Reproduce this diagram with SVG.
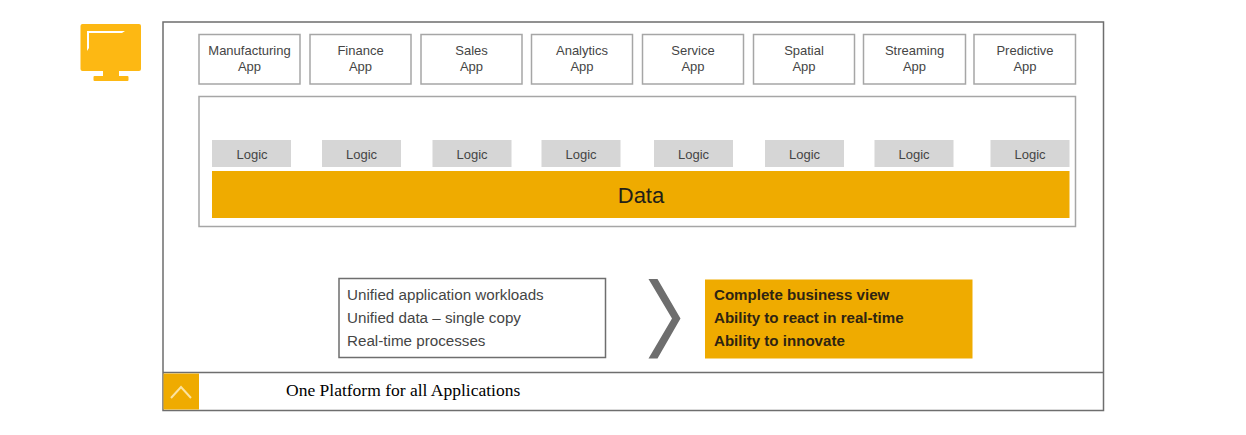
<svg xmlns="http://www.w3.org/2000/svg" width="1246" height="435" viewBox="0 0 1246 435">
<style>
text{font-family:"Liberation Sans",Arial,sans-serif;fill:#454545}
.app rect{fill:#fff;stroke:#a6a6a6;stroke-width:1.5}
.app text{font-size:13px;text-anchor:middle}
.logic rect{fill:#d6d6d6}
.logic text{font-size:13px;text-anchor:middle}
.list{font-size:15.2px}
.bold{font-size:15.1px;font-weight:bold;fill:#2e2412}
</style>
<rect width="1246" height="435" fill="#fff"/>
<g id="frame"><rect x="163" y="22" width="940.500" height="388.500" fill="#fff" stroke="#6e6e6e" stroke-width="1.5"/><line x1="163" y1="372.500" x2="1103.500" y2="372.500" stroke="#6e6e6e" stroke-width="1.5"/></g>
<g id="monitor-icon"><rect x="80.500" y="24" width="60.500" height="47" rx="2" fill="#fdb813"/><rect x="103" y="70" width="16" height="6" fill="#fdb813"/><rect x="93.500" y="76" width="35" height="5" rx="1" fill="#fdb813"/><path d="M87 31H125L122 33H89V48L87 51Z" fill="#fff"/></g>
<g id="app-1" class="app"><rect x="199" y="34.500" width="101" height="49.500"/><text x="249.500" y="55">Manufacturing</text><text x="249.500" y="71">App</text></g>
<g id="app-2" class="app"><rect x="310" y="34.500" width="101" height="49.500"/><text x="360.500" y="55">Finance</text><text x="360.500" y="71">App</text></g>
<g id="app-3" class="app"><rect x="421" y="34.500" width="101" height="49.500"/><text x="471.500" y="55">Sales</text><text x="471.500" y="71">App</text></g>
<g id="app-4" class="app"><rect x="531.500" y="34.500" width="101" height="49.500"/><text x="582" y="55">Analytics</text><text x="582" y="71">App</text></g>
<g id="app-5" class="app"><rect x="642.500" y="34.500" width="101" height="49.500"/><text x="693" y="55">Service</text><text x="693" y="71">App</text></g>
<g id="app-6" class="app"><rect x="753.500" y="34.500" width="101" height="49.500"/><text x="804" y="55">Spatial</text><text x="804" y="71">App</text></g>
<g id="app-7" class="app"><rect x="863.500" y="34.500" width="102" height="49.500"/><text x="914.500" y="55">Streaming</text><text x="914.500" y="71">App</text></g>
<g id="app-8" class="app"><rect x="974" y="34.500" width="101.500" height="49.500"/><text x="1025" y="55">Predictive</text><text x="1025" y="71">App</text></g>
<g id="platform"><rect x="199" y="96.500" width="876.500" height="130" fill="#fff" stroke="#a6a6a6" stroke-width="1.5"/></g>
<g id="logic-1" class="logic"><rect x="212" y="140" width="79" height="27"/><text x="252" y="158.500">Logic</text></g>
<g id="logic-2" class="logic"><rect x="322" y="140" width="79" height="27"/><text x="361.500" y="158.500">Logic</text></g>
<g id="logic-3" class="logic"><rect x="432.500" y="140" width="79" height="27"/><text x="472" y="158.500">Logic</text></g>
<g id="logic-4" class="logic"><rect x="541.500" y="140" width="79" height="27"/><text x="581" y="158.500">Logic</text></g>
<g id="logic-5" class="logic"><rect x="654" y="140" width="79" height="27"/><text x="693.500" y="158.500">Logic</text></g>
<g id="logic-6" class="logic"><rect x="765" y="140" width="79" height="27"/><text x="804.500" y="158.500">Logic</text></g>
<g id="logic-7" class="logic"><rect x="874.500" y="140" width="79" height="27"/><text x="914" y="158.500">Logic</text></g>
<g id="logic-8" class="logic"><rect x="990.500" y="140" width="79" height="27"/><text x="1030" y="158.500">Logic</text></g>
<g id="data"><rect x="212" y="171" width="857.500" height="47" fill="#efab00"/><text x="641" y="203" font-size="22" text-anchor="middle" style="fill:#231f18">Data</text></g>
<g id="benefits-input"><rect x="339" y="278.500" width="266.500" height="79" fill="#fff" stroke="#6e6e6e" stroke-width="1.5"/><text class="list" x="347" y="299.500">Unified application workloads</text><text class="list" x="347" y="322.500">Unified data – single copy</text><text class="list" x="347" y="345.500">Real-time processes</text></g>
<g id="connectors"><path d="M648.500 279H657.500L680.500 318.500L657.500 358.500H648.500L672 318.500Z" fill="#6e6e6e"/></g>
<g id="benefits-output"><rect x="705" y="279.500" width="267.500" height="79" fill="#efab00"/><text class="bold" x="714" y="300">Complete business view</text><text class="bold" x="714" y="323">Ability to react in real-time</text><text class="bold" x="714" y="346">Ability to innovate</text></g>
<g id="caption"><rect x="163.500" y="373.500" width="35.500" height="36" fill="#efab00"/><path d="M171 398L181 387L191 398" fill="none" stroke="#fbe3a0" stroke-width="2"/><text x="286" y="396" font-size="17.500" style="font-family:'Liberation Serif','Times New Roman',serif;fill:#000">One Platform for all Applications</text></g>
</svg>
